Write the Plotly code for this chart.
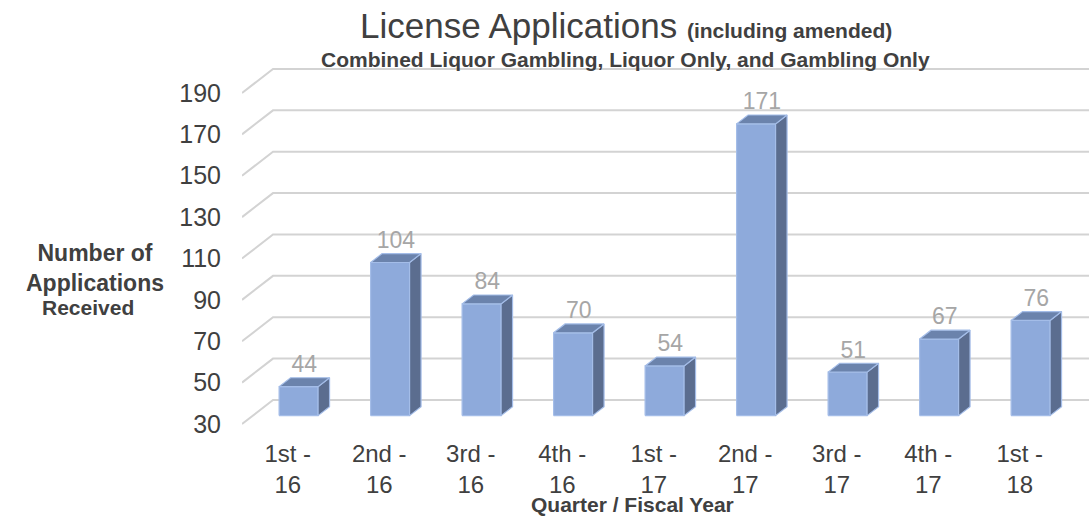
import plotly.graph_objects as go

# ---------------- data ----------------
categories = ["1st -<br>16", "2nd -<br>16", "3rd -<br>16", "4th -<br>16", "1st -<br>17",
              "2nd -<br>17", "3rd -<br>17", "4th -<br>17", "1st -<br>18"]
applications = [44, 104, 84, 70, 54, 171, 51, 67, 76]
y_ticks = [30, 50, 70, 90, 110, 130, 150, 170, 190]
y_base = 30

# ---------------- geometry (pseudo-3D) ----------------
W, H = 1089, 518
ML, MR, MT, MB = 242, 0, 60, 78
PX_PER_CAT = 91.5
PX_PER_UNIT = 2.069
X0 = -0.5
X1 = X0 + (W - ML - MR) / PX_PER_CAT
Y0 = y_base - (H - MB - 424) / PX_PER_UNIT
Y1 = y_base + (424 - MT) / PX_PER_UNIT
DX = 31 / PX_PER_CAT          # depth offset, x units
DY = 24 / PX_PER_UNIT         # depth offset, y units
A, B = 0.35, 0.72             # bar front/back depth fractions
HW = 0.213                    # half bar width

FONT = "Arial, Liberation Sans, sans-serif"
fig = go.Figure()

# back-wall gridlines with diagonal side-wall segment
gx, gy = [], []
for v in y_ticks:
    gx += [X0, X0 + DX, X1 + 1, None]
    gy += [v, v + DY, v + DY, None]
fig.add_trace(go.Scatter(x=gx, y=gy, mode="lines", line=dict(color="#d3d3d3", width=2),
                         hoverinfo="skip", showlegend=False))

def faces(kind):
    xs, ys = [], []
    for i, v in enumerate(applications):
        if kind == "front":
            px = [i - HW + A*DX, i + HW + A*DX, i + HW + A*DX, i - HW + A*DX, i - HW + A*DX]
            py = [y_base + A*DY, y_base + A*DY, v + A*DY, v + A*DY, y_base + A*DY]
        elif kind == "side":
            px = [i + HW + A*DX, i + HW + B*DX, i + HW + B*DX, i + HW + A*DX, i + HW + A*DX]
            py = [y_base + A*DY, y_base + B*DY, v + B*DY, v + A*DY, y_base + A*DY]
        else:
            px = [i - HW + A*DX, i + HW + A*DX, i + HW + B*DX, i - HW + B*DX, i - HW + A*DX]
            py = [v + A*DY, v + A*DY, v + B*DY, v + B*DY, v + A*DY]
        xs += px + [None]
        ys += py + [None]
    return xs, ys

for kind, col in [("front", "#8eaadb"), ("side", "#5b6d8f"), ("top", "#6b83ac")]:
    xs, ys = faces(kind)
    fig.add_trace(go.Scatter(x=xs, y=ys, mode="lines", fill="toself", fillcolor=col,
                             line=dict(color="#a4bde8", width=1.2),
                             hoverinfo="skip", showlegend=False))

# data labels
fig.add_trace(go.Scatter(
    x=[i + (A + B) / 2 * DX for i in range(len(applications))],
    y=[v + B * DY for v in applications],
    mode="text", text=[str(v) for v in applications], textposition="top center",
    textfont=dict(family=FONT, size=23, color="#a6a6a6"),
    hoverinfo="skip", showlegend=False, cliponaxis=False))

def px2paper_x(px):
    return (px - ML) / (W - ML - MR)

def px2paper_y(py):
    return (H - MB - py) / (H - MB - MT)

fig.update_layout(
    width=W, height=H,
    margin=dict(l=ML, r=MR, t=MT, b=MB),
    paper_bgcolor="white", plot_bgcolor="white",
    font=dict(family=FONT, color="#404040"),
    xaxis=dict(range=[X0, X1], tickvals=list(range(len(categories))), ticktext=categories,
               showgrid=False, zeroline=False, showline=False, ticks="",
               ticklabelstandoff=-3,
               tickfont=dict(size=24, color="#404040"), fixedrange=True),
    yaxis=dict(range=[Y0, Y1], tickvals=y_ticks, showgrid=False, zeroline=False,
               showline=False, ticks="", ticklabelstandoff=20,
               tickfont=dict(size=25, color="#404040"), fixedrange=True),
    annotations=[
        dict(text="License Applications <b><span style='font-size:21px'>(including amended)</span></b>",
             x=px2paper_x(626), y=px2paper_y(26), xref="paper", yref="paper",
             showarrow=False, xanchor="center", yanchor="middle",
             font=dict(size=35, color="#404040")),
        dict(text="<b>Combined Liquor Gambling, Liquor Only, and Gambling Only</b>",
             x=px2paper_x(625), y=px2paper_y(59), xref="paper", yref="paper",
             showarrow=False, xanchor="center", yanchor="middle",
             font=dict(size=21, color="#404040")),
        dict(text="<b>Number of<br>Applications</b>",
             x=px2paper_x(95), y=px2paper_y(268), xref="paper", yref="paper",
             showarrow=False, xanchor="center", yanchor="middle",
             font=dict(size=23, color="#404040")),
        dict(text="<b>Received</b>",
             x=px2paper_x(88), y=px2paper_y(307), xref="paper", yref="paper",
             showarrow=False, xanchor="center", yanchor="middle",
             font=dict(size=21, color="#404040")),
        dict(text="<b>Quarter / Fiscal Year</b>",
             x=px2paper_x(632), y=px2paper_y(517), xref="paper", yref="paper",
             showarrow=False, xanchor="center", yanchor="bottom", borderpad=0,
             font=dict(size=21, color="#404040")),
    ],
)

fig.write_html("out.html", config={"displayModeBar": False},
               post_script="document.body.style.margin='0px';")
